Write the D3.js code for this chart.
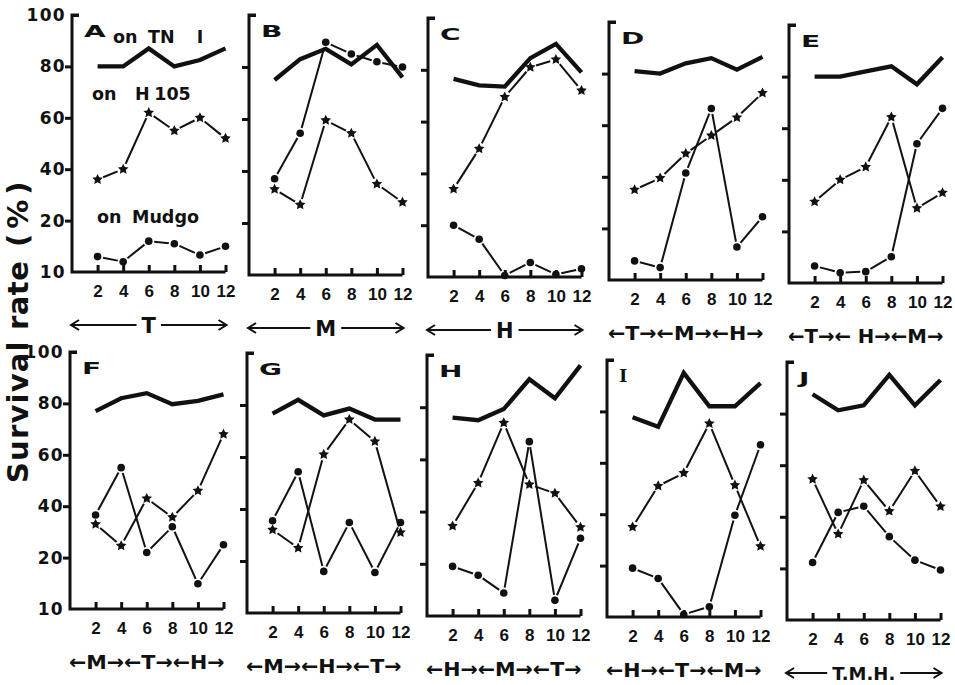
<!DOCTYPE html>
<html><head><meta charset="utf-8">
<script src="https://cdn.jsdelivr.net/npm/d3@7"></script>
<style>body{margin:0;background:#fff}svg{display:block}</style>
</head><body>
<svg id="chart" width="955" height="685"></svg>
<script>
// ---------- data ----------
const panels = ["A","B","C","D","E","F","G","H","I","J"];
const days = [2,4,6,8,10,12];
const tn1 = [
  [80,80,87,80,82.5,87],
  [75,83,87,81,88.5,76],
  [76.5,74,73.5,84.5,90,79],
  [81,80,84,86,81.5,86.5],
  [80,80,82,84,77,87.5],
  [77,82,84,79.7,81,83.5],
  [76.7,82,76,78.6,74.4,74.4],
  [76,75,79.3,90.7,83.4,96],
  [77.7,74,95,82,82,91],
  [87.5,81.3,83.2,95,83.2,93]
];
const h105 = [
  [36,40,62,55,60,52],
  [33,27,59.5,54.5,35,28],
  [34,49.5,69.5,81,84,72],
  [35,39.5,49,56,63,72.5],
  [31.5,40,45,64.3,29,35],
  [33,24.6,43,35.7,46,68],
  [32,25,61,74.4,66,31],
  [34.5,51,74,50.4,47,34],
  [35,51,56,75.3,51.3,27.5],
  [54.6,33.3,54.2,42.2,57.8,44]
];
const mudgo = [
  [13,12,16,15.5,13.3,15],
  [37,54.5,89.5,85,82,80],
  [20,17.3,10.3,12.8,10.5,11.6],
  [13.7,12.4,41.5,66.5,16.4,24.5],
  [13.3,12,12.2,15.1,54,67.7],
  [36.6,55,22,32,14.9,25],
  [35.5,54.3,18,34.8,17.8,34.8],
  [19.5,17.8,14.4,66.8,13,29.8],
  [19.5,17.5,10.5,12,39.6,67],
  [22.3,41.7,44.1,32.3,23.2,19.7]
];
const yTicks = [10,20,40,60,80,100];
const yTickLabels = ["10","20","40","60","80","100"];
const sequences = ["T","M","H","←T→←M→←H→","←T→← H→←M→","←M→←T→←H→","←M→←H→←T→","←H→←M→←T→","←H→←T→←M→","T.M.H."];
const hostPrefix = "on";
const hostNames = ["TN I","H 105","Mudgo"];
const yTitleWords = ["Survival","rate","(%)"];

// ---------- layout (scanned figure is slightly tilted) ----------
const axisXs  = [72,249,428,609,789, 70,247,427,607,787];
const tops    = [15,15,18,22,25, 352,353,355,360,362];
const bottoms = [272,275,277,280,283, 609,613,616,617,620];
const INK = "#111";
const BOLD = "'DejaVu Sans', Verdana, sans-serif";
const ARIAL = "'Liberation Sans', Arial, sans-serif";

const svg = d3.select("#chart");
svg.append("rect").attr("width",955).attr("height",685).attr("fill","#fff");

// chunky five-pointed star symbol for d3.symbol
const fatStar = {
  draw(ctx, size){
    const R = Math.sqrt(size/2.2), r = R*0.5;
    for(let k=0;k<10;k++){
      const a = -Math.PI/2 + k*Math.PI/5, rad = k%2 ? r : R;
      const px = Math.cos(a)*rad, py = Math.sin(a)*rad;
      k ? ctx.lineTo(px,py) : ctx.moveTo(px,py);
    }
    ctx.closePath();
  }
};

function shortSegments(pts, gap){
  const segs=[];
  for(let j=0;j<pts.length-1;j++){
    const [x1,y1]=pts[j],[x2,y2]=pts[j+1];
    const dx=x2-x1, dy=y2-y1, L=Math.hypot(dx,dy);
    if(L<=2*gap+1) continue;
    const ux=dx/L, uy=dy/L;
    segs.push([x1+ux*gap,y1+uy*gap,x2-ux*gap,y2-uy*gap]);
  }
  return segs;
}

panels.forEach((name,i)=>{
  const col = i%5;
  const x0 = axisXs[i], top = tops[i], bot = bottoms[i];
  const x = d3.scaleLinear().domain([0,12]).range([x0, x0+153.5]);
  const y = d3.scaleLinear().domain([10,20,100]).range([bot, bot-0.2*(bot-top), top]);
  const g = svg.append("g");

  // y axis ticks
  const yAx = d3.axisLeft(y).tickValues(yTicks).tickSize(7).tickSizeOuter(0).tickPadding(-1)
    .tickFormat((d,k)=> col===0 ? yTickLabels[k] : "");
  const gy = g.append("g").attr("transform",`translate(${x0},0)`).call(yAx);
  gy.select(".domain").remove();
  gy.selectAll(".tick line").attr("stroke",INK).attr("stroke-width",3)
    .attr("x2", d => d===100 ? 7 : (d===10 ? 0 : -7));
  gy.selectAll(".tick text").attr("fill",INK).attr("font-family",BOLD).attr("font-weight","bold")
    .attr("font-size",17).attr("letter-spacing",1.3);

  // x axis ticks
  const xAx = d3.axisBottom(x).tickValues(days).tickSize(-7).tickSizeOuter(0).tickPadding(13);
  const gx = g.append("g").attr("transform",`translate(0,${bot})`).call(xAx);
  gx.select(".domain").remove();
  gx.selectAll(".tick line").attr("stroke",INK).attr("stroke-width",3);
  gx.selectAll(".tick text").attr("fill",INK).attr("font-family",ARIAL).attr("font-weight","bold").attr("font-size",17);

  // frame: top bracket, y axis, baseline
  g.append("path").attr("d",`M${x0+7},${top}H${x0}V${bot}H${x(12)}`)
    .attr("fill","none").attr("stroke",INK).attr("stroke-width",3).attr("stroke-linejoin","miter");

  // panel letter
  const isI = name==="I";
  g.append("text").attr("transform",`translate(${x0+12},${top+22}) scale(${isI?1.2:1.7},1)`)
    .attr("font-family", isI ? "'Liberation Serif', serif" : BOLD).attr("font-weight","bold")
    .attr("font-size", isI?18:16.5).attr("fill",INK).text(name);

  const ptsT = days.map((d,j)=>[x(d), y(tn1[i][j])]);
  const ptsH = days.map((d,j)=>[x(d), y(h105[i][j])]);
  const ptsM = days.map((d,j)=>[x(d), y(mudgo[i][j])]);

  // TN1 thick line
  g.append("path").attr("d", d3.line()(ptsT)).attr("fill","none").attr("stroke",INK)
    .attr("stroke-width",4.3).attr("stroke-linejoin","miter");

  // thin connecting lines with gaps at markers
  [[ptsH,6],[ptsM,5.5]].forEach(([pts,gap])=>{
    g.selectAll(null).data(shortSegments(pts,gap)).join("line")
      .attr("x1",s=>s[0]).attr("y1",s=>s[1]).attr("x2",s=>s[2]).attr("y2",s=>s[3])
      .attr("stroke",INK).attr("stroke-width",2);
  });

  // markers
  g.selectAll(null).data(ptsH).join("path")
    .attr("d", d3.symbol(fatStar).size(68)())
    .attr("transform",p=>`translate(${p[0]},${p[1]})`).attr("fill",INK);
  g.selectAll(null).data(ptsM).join("circle")
    .attr("cx",p=>p[0]).attr("cy",p=>p[1]).attr("r",3.8).attr("fill",INK);

  // sequence label under panel
  const lab = sequences[i];
  const xl = x0-1, xr = x(12)+1;
  if(lab.indexOf("←")<0){
    const fs = lab.length>1 ? 18 : 21;
    const cx = (xl+xr)/2, ay = bot+53;
    const t = g.append("text").attr("x",cx).attr("y",ay+fs*0.729/2).attr("text-anchor","middle")
      .attr("font-family",BOLD).attr("font-weight","bold").attr("font-size",fs).attr("fill",INK).text(lab);
    const w = t.node().getComputedTextLength();
    const a1 = cx-w/2-5, a2 = cx+w/2+5;
    g.append("path").attr("d",`M${xl},${ay}H${a1}M${a2},${ay}H${xr}M${xl+8},${ay-5}L${xl},${ay}L${xl+8},${ay+5}M${xr-8},${ay-5}L${xr},${ay}L${xr-8},${ay+5}`)
      .attr("fill","none").attr("stroke",INK).attr("stroke-width",2);
  } else {
    g.append("text").attr("x",xl).attr("y",bot+60)
      .attr("textLength",xr-xl).attr("lengthAdjust","spacingAndGlyphs")
      .attr("font-family",BOLD).attr("font-weight","bold").attr("font-size",20).attr("fill",INK).text(lab);
  }

  // host legend texts in panel A
  if(i===0){
    // [prefix x, name x, baseline, word-spacing]
    const legendPos = [[x0+41, x0+76, top+28, 16],[x0+20, x0+63, top+85, -1.5],[x0+25, x0+60, top+208, 0]];
    hostNames.forEach((h,k)=>{
      const t = g.append("text").attr("y",legendPos[k][2])
        .attr("font-family",BOLD).attr("font-weight","bold").attr("font-size",17.5).attr("fill",INK);
      t.append("tspan").attr("x",legendPos[k][0]).text(hostPrefix+" ");
      t.append("tspan").attr("x",legendPos[k][1]).attr("word-spacing",legendPos[k][3]).text(h);
    });
  }
});

// y axis title
const yt = svg.append("text").attr("transform","translate(28,0) rotate(-90)")
  .attr("font-family",BOLD).attr("font-weight","bold").attr("font-size",29).attr("fill",INK);
const titlePos = [[-483,1.2],[-330,0.5],[-247,5]];
yTitleWords.forEach((w,k)=>{
  yt.append("tspan").attr("x",titlePos[k][0]).attr("y",0).attr("letter-spacing",titlePos[k][1]).text(w);
});
</script>
</body></html>
